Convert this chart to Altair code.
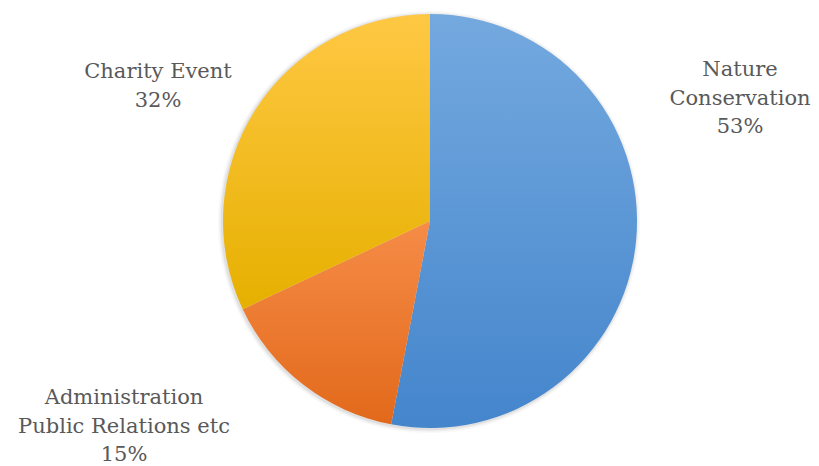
import altair as alt
import pandas as pd

categories = ["Nature Conservation", "Administration Public Relations etc", "Charity Event"]
shares = [53, 15, 32]
label_lines = [["Nature", "Conservation"], ["Administration", "Public Relations etc"], ["Charity Event"]]

df = pd.DataFrame({
    "category": categories,
    "share": shares,
    "order": list(range(len(categories))),
    "label": ["\n".join(l) + f"\n{s}%" for l, s in zip(label_lines, shares)],
})

CX, CY, R = 422, 213, 207

def grad(c0, c1):
    return alt.LinearGradient(
        gradient="linear", x1=0, y1=0, x2=0, y2=1,
        stops=[alt.GradientStop(offset=0, color=c0), alt.GradientStop(offset=1, color=c1)],
    )

fills = {
    "Nature Conservation": grad("#74A9DF", "#4485CC"),
    "Administration Public Relations etc": grad("#F68C47", "#E2691B"),
    "Charity Event": grad("#FFC844", "#E6B000"),
}

base = alt.Chart(df).transform_window(
    end="sum(share)", sort=[alt.SortField("order")], frame=[None, 0]
).transform_calculate(start="datum.end - datum.share")

theta = alt.Theta("start:Q", scale=alt.Scale(domain=[0, 100]), stack=None)

layers = []
# soft shadow
for dr, op in [(4, 0.05), (2.5, 0.08), (1.2, 0.12)]:
    layers.append(
        base.mark_arc(radius=R + dr, color="#7f7f7f", opacity=op).encode(
            theta=theta, theta2="end:Q", x=alt.value(CX - 1), y=alt.value(CY + 1)
        )
    )

for cat in categories:
    layers.append(
        base.transform_filter(alt.datum.category == cat)
        .mark_arc(radius=R, color=fills[cat])
        .encode(theta=theta, theta2="end:Q", x=alt.value(CX), y=alt.value(CY))
    )

# position of the first text line of each label
label_pos = {
    "Nature Conservation": (732, 62),
    "Charity Event": (150, 64),
    "Administration Public Relations etc": (116, 390),
}

for cat in categories:
    px, py = label_pos[cat]
    layers.append(
        alt.Chart(df).transform_filter(alt.datum.category == cat)
        .mark_text(font="DejaVu Serif", fontSize=21, color="#595959", lineBreak="\n",
                   lineHeight=28.5, align="center", baseline="middle")
        .encode(text="label:N", x=alt.value(px), y=alt.value(py))
    )

chart = alt.layer(*layers).properties(
    width=803, height=458, padding=0,
    autosize=alt.AutoSizeParams(type="fit", contains="padding"),
).configure_view(stroke=None)

chart.save("out.html", embed_options={"renderer": "svg", "actions": False})
